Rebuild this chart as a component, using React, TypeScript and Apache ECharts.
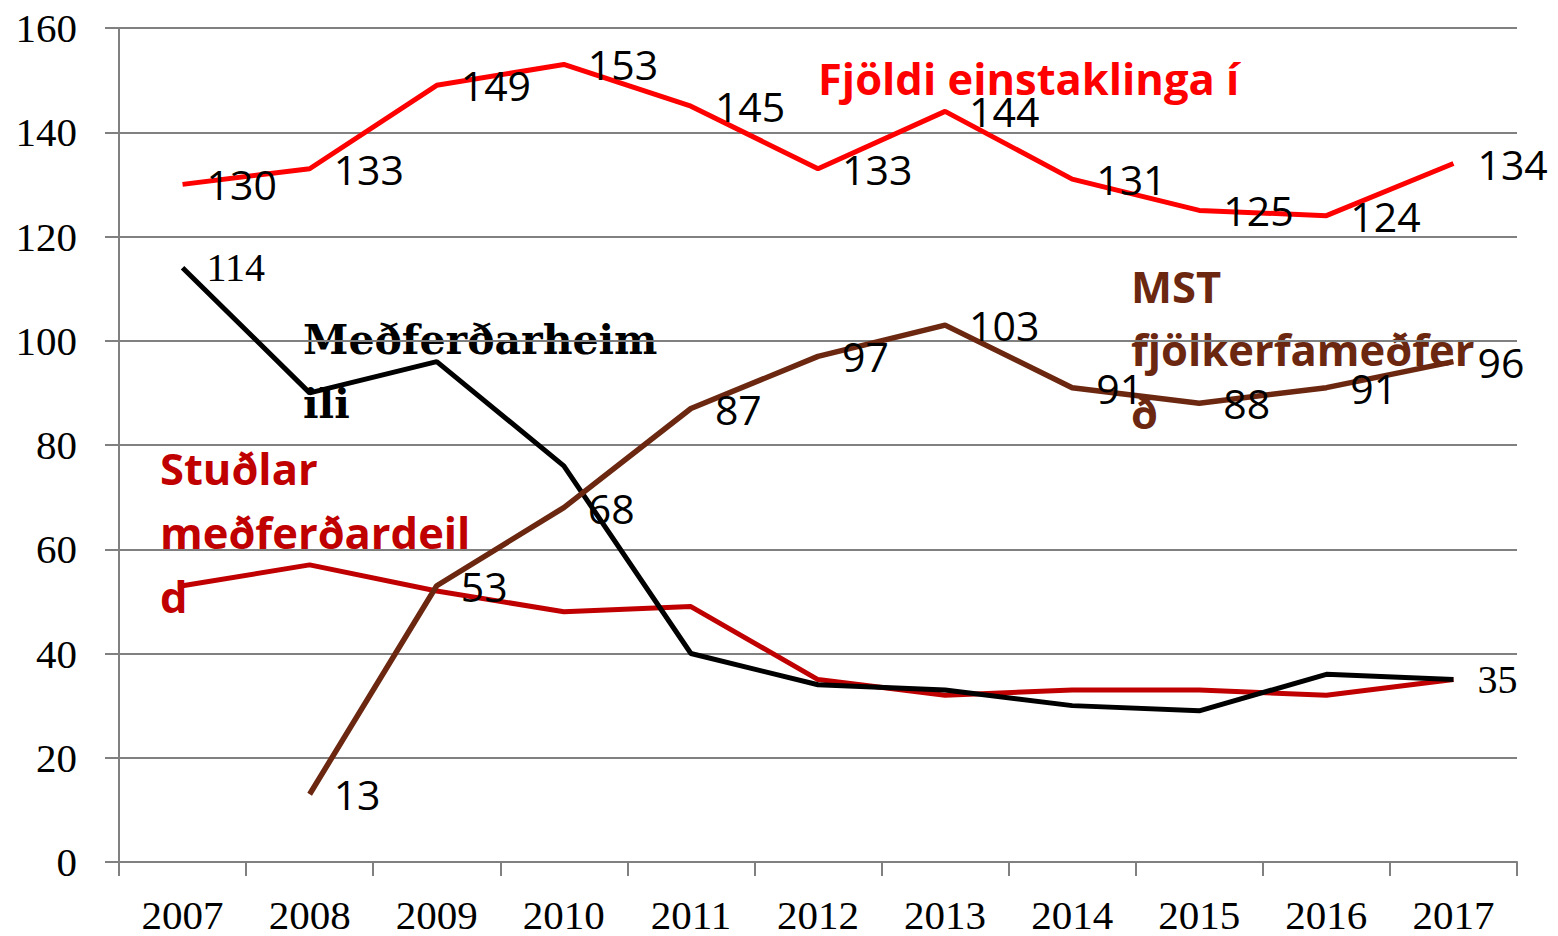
import React, { useEffect, useRef } from "react";
import * as echarts from "echarts";

const years = ["2007", "2008", "2009", "2010", "2011", "2012", "2013", "2014", "2015", "2016", "2017"];
const fjoldi = [130, 133, 149, 153, 145, 133, 144, 131, 125, 124, 134];
const medferdarheimili = [114, 90, 96, 76, 40, 34, 33, 30, 29, 36, 35];
const mst = [null, 13, 53, 68, 87, 97, 103, 91, 88, 91, 96];
const studlar = [53, 57, 52, 48, 49, 35, 32, 33, 33, 32, 35];
const heimiliLabelIdx = [0, 10];

const nameFjoldi = "Fjöldi einstaklinga í";
const nameHeimili = "Meðferðarheimili";
const nameMst = "MST fjölkerfameðferð";
const nameStudlar = "Stuðlar meðferðardeild";

export default function App() {
  const ref = useRef<HTMLDivElement>(null);
  useEffect(() => {
    const chart = echarts.init(ref.current!, null, { renderer: "svg" });
    const sans = "'Open Sans', 'Noto Sans', sans-serif";
    const serif = "'Liberation Serif', 'Times New Roman', serif";
    const valueLabel = {
      show: true,
      position: "right",
      distance: 24,
      color: "#000",
      fontFamily: sans,
      fontSize: 41,
    };
    const hidden = { symbol: "circle", symbolSize: 0.01, showSymbol: true };
    chart.setOption({
      animation: false,
      grid: { left: 119, right: 41, top: 28, bottom: 74, containLabel: false },
      xAxis: {
        type: "category",
        data: years,
        boundaryGap: true,
        axisLine: { lineStyle: { color: "#808080", width: 2 } },
        axisTick: { show: true, length: 14, interval: 0, lineStyle: { color: "#808080", width: 2 } },
        axisLabel: { color: "#000", fontFamily: serif, fontSize: 41, margin: 32, interval: 0 },
        splitLine: { show: false },
      },
      yAxis: {
        type: "value",
        min: 0,
        max: 160,
        interval: 20,
        axisLine: { show: true, lineStyle: { color: "#808080", width: 2 } },
        axisTick: { show: true, length: 14, lineStyle: { color: "#808080", width: 2 } },
        axisLabel: { color: "#000", fontFamily: serif, fontSize: 41, margin: 42 },
        splitLine: { show: true, lineStyle: { color: "#808080", width: 2 } },
      },
      series: [
        {
          name: nameStudlar,
          type: "line",
          data: studlar,
          showSymbol: false,
          lineStyle: { color: "#C00000", width: 5 },
          itemStyle: { color: "#C00000" },
        },
        {
          name: nameHeimili,
          type: "line",
          ...hidden,
          data: medferdarheimili.map((v, i) =>
            heimiliLabelIdx.includes(i)
              ? { value: v, label: { show: true, position: "right", distance: 24, color: "#000", fontFamily: serif, fontSize: 40 } }
              : v
          ),
          lineStyle: { color: "#000000", width: 5 },
          itemStyle: { color: "#000000" },
        },
        {
          name: nameMst,
          type: "line",
          ...hidden,
          data: mst,
          connectNulls: false,
          lineStyle: { color: "#6B2710", width: 5.5 },
          itemStyle: { color: "#6B2710" },
          label: valueLabel,
        },
        {
          name: nameFjoldi,
          type: "line",
          ...hidden,
          data: fjoldi,
          lineStyle: { color: "#FF0000", width: 5 },
          itemStyle: { color: "#FF0000" },
          label: valueLabel,
        },
      ],
      graphic: [
        {
          type: "text",
          x: 818,
          y: 78,
          style: { text: "Fjöldi einstaklinga í", fill: "#FF0000", fontFamily: sans, fontWeight: "bold", fontSize: 43.5, verticalAlign: "middle" },
        },
        {
          type: "text",
          x: 1131,
          y: 255,
          style: { text: "MST\nfjölkerfameðfer\nð", fill: "#6B2710", fontFamily: sans, fontWeight: "bold", fontSize: 43.5, lineHeight: 63, verticalAlign: "top" },
        },
        {
          type: "text",
          x: 160,
          y: 436,
          style: { text: "Stuðlar\nmeðferðardeil\nd", fill: "#C00000", fontFamily: sans, fontWeight: "bold", fontSize: 43.5, lineHeight: 64, verticalAlign: "top" },
        },
        {
          type: "text",
          x: 303,
          y: 308,
          style: { text: "Meðferðarheim\nili", fill: "#000", fontFamily: "'DejaVu Serif', serif", fontWeight: "bold", fontSize: 41, lineHeight: 64, verticalAlign: "top" },
        },
      ],
    });
    return () => chart.dispose();
  }, []);
  return <div ref={ref} style={{ position: "fixed", left: 0, top: 0, width: 1558, height: 936, background: "#fff" }} />;
}
